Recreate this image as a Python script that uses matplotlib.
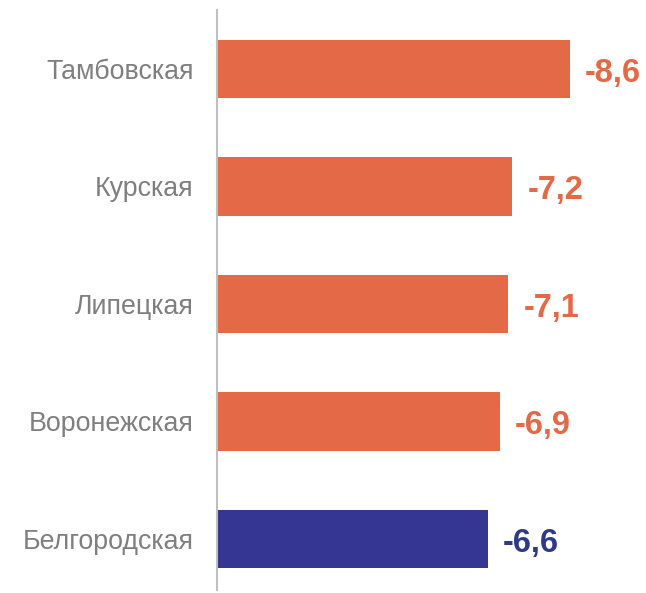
import matplotlib
matplotlib.use('Agg')
import matplotlib.pyplot as plt

plt.rcParams['font.family'] = ['Liberation Sans', 'DejaVu Sans']

regions = ['Тамбовская', 'Курская', 'Липецкая', 'Воронежская', 'Белгородская']
values = [-8.6, -7.2, -7.1, -6.9, -6.6]
colors = ['#E46A47', '#E46A47', '#E46A47', '#E46A47', '#353594']
label_colors = ['#E46A47', '#E46A47', '#E46A47', '#E46A47', '#2E3A87']


def main():
    fig = plt.figure(figsize=(6.46, 5.93), dpi=100)
    ax = fig.add_axes([217 / 646, 3 / 593, 1 - 217 / 646, 580 / 593])

    pos = list(range(len(regions)))
    mags = [abs(v) for v in values]
    ax.barh(pos, mags, height=0.494, color=colors)

    for p, m, v, c in zip(pos, mags, values, label_colors):
        txt = ('%.1f' % v).replace('.', ',')
        ax.annotate(txt, (m, p), xytext=(11, -3), textcoords='offset points',
                    va='center', ha='left', fontsize=23.5, fontweight='bold', color=c)

    ax.set_xlim(0, (646 - 217) / 41.0)
    ax.set_ylim(4.434, -0.502)
    ax.set_yticks(pos)
    ax.set_yticklabels(regions, fontsize=19.3, color='#7F7F7F')
    ax.tick_params(axis='y', length=0, pad=17)
    ax.set_xticks([])

    for s in ['top', 'right', 'bottom']:
        ax.spines[s].set_visible(False)
    ax.spines['left'].set_color('#BFBFBF')
    ax.spines['left'].set_linewidth(1.5)

    fig.savefig('out.png', dpi=100)


if __name__ == '__main__':
    main()
